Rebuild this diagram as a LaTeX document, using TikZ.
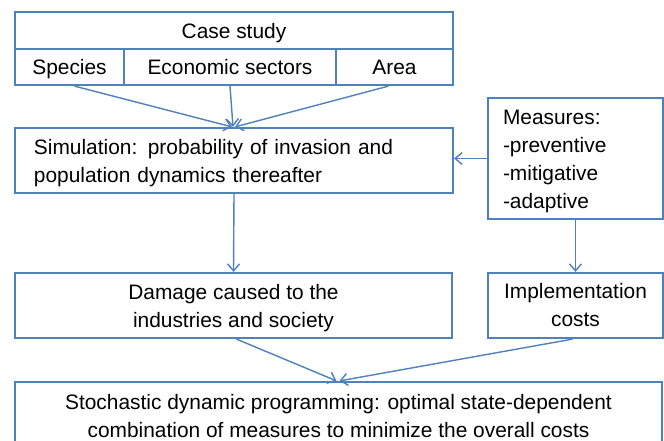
\documentclass[tikz,border=0pt]{standalone}
\usepackage{fontspec}
\setmainfont{Liberation Sans}
\usetikzlibrary{arrows.meta,calc}
\definecolor{boxblue}{RGB}{79,129,189}
% extra room above the first line, so that stacked lines sit a little lower
\newcommand\toppad{\rule{0pt}{20pt}}
\begin{document}
\begin{tikzpicture}[x=1pt,y=-1pt,
  font=\fontsize{20.9}{28}\selectfont,
  frame/.style={draw=boxblue,line width=2.2pt,rectangle},
  box/.style={frame,inner sep=0pt,align=center},
  cell/.style={box,text depth=0pt},
  leftbox/.style={frame,inner ysep=0pt,align=left},
  flow/.style={draw=boxblue,line width=1.4pt,-{Straight Barb[length=7pt,width=12pt,line width=1.4pt]}}]
\clip (0,0) rectangle (664,440);
\fill[white] (0,0) rectangle (664,440);

% case study header and its three parts
\node[cell,minimum width=438pt,minimum height=37pt] (case) at (234,30.5) {Case study};
\node[cell,minimum width=109pt,minimum height=36pt] (species) at (69.5,67) {Species};
\node[cell,minimum width=212pt,minimum height=36pt] (econ) at (230,67) {Economic sectors};
\node[cell,minimum width=117pt,minimum height=36pt] (area) at (394.5,67) {Area};

% simulation
\node[leftbox,inner xsep=19pt,text width=400pt,minimum height=65pt] (sim) at (234,160.5)
  {\toppad Simulation: probability of invasion and\\population dynamics thereafter};

% measures
\node[leftbox,inner xsep=15pt,text width=145pt,minimum height=121pt] (meas) at (575.5,158.5)
  {\toppad Measures:\\-preventive\\-mitigative\\-adaptive};

% damage and implementation costs
\node[box,minimum width=437pt,minimum height=65pt] (dam) at (233.5,305.5)
  {\toppad Damage caused to the\\industries and society};
\node[box,minimum width=175pt,minimum height=65pt] (impl) at (575.5,305.5)
  {Implementation\\costs};

% stochastic dynamic programming
\node[box,minimum width=647pt,minimum height=69pt] (sdp) at (338.5,416.5)
  {Stochastic dynamic programming: optimal state-dependent\\combination of measures to minimize the overall costs};

% connectors
\draw[flow] ([xshift=5pt]species.south) -- ([xshift=-2pt]sim.north);
\draw[flow] (econ.south) -- ([xshift=-1pt]sim.north);
\draw[flow] ([xshift=-6pt]area.south) -- ([xshift=1pt]sim.north);
\draw[flow] (meas.west) -- (meas.west -| sim.east);
\draw[flow] (sim.south) -- (dam.north);
\draw[flow] (meas.south) -- (impl.north);
\draw[flow] ([xshift=3pt]dam.south) -- ([xshift=-2pt]sdp.north);
\draw[flow] ([xshift=-3pt]impl.south) -- ([xshift=1pt]sdp.north);
\end{tikzpicture}
\end{document}
